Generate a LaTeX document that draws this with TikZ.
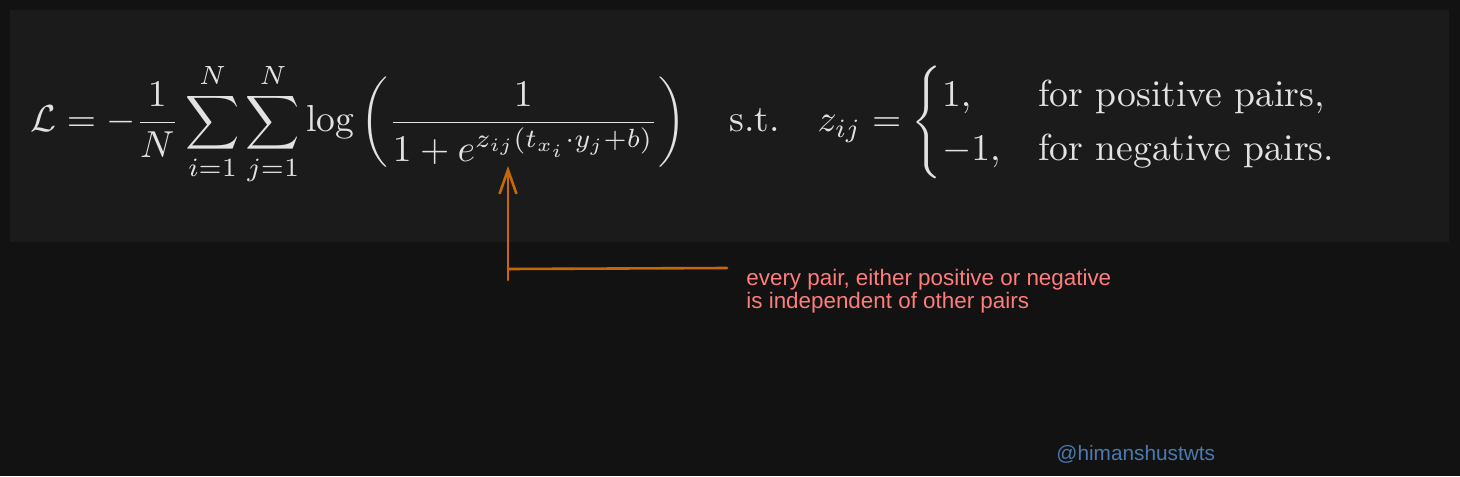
\documentclass[tikz,border=0pt]{standalone}
\usepackage{amsmath}
\usepackage{xcolor}
\usepackage{amssymb}
\usepackage{fontspec}
\newfontfamily\notefont{Liberation Sans}
\usepackage{tikz}
\usetikzlibrary{arrows.meta, positioning}

\definecolor{canvas}{RGB}{18,18,18}
\definecolor{panel}{RGB}{27,27,27}
\definecolor{ink}{RGB}{226,226,226}
\definecolor{arrowcol}{RGB}{196,104,8}
\definecolor{notecol}{RGB}{255,124,124}
\definecolor{handlecol}{RGB}{74,122,176}

\begin{document}
\begin{tikzpicture}[x=0.5pt, y=-0.5pt, >={Straight Barb[length=12pt, width=8.5pt]},
		arrowline/.style={draw=arrowcol, line width=1.3pt, line cap=round, line join=round},
		note/.style={text=notecol, font=\notefont\fontsize{11.2}{11.5}\selectfont, align=left, inner sep=0pt},
		handle/.style={text=handlecol, font=\notefont\fontsize{10.4}{12}\selectfont, inner sep=0pt}]
			% background and formula panel
			\fill[canvas] (0, 0) rectangle (1460, 476);
			\fill[panel] (10, 10) rectangle (1449, 242);
			\useasboundingbox (0, 0) rectangle (1460, 476);

			\node[text=ink, anchor=west, inner sep=0pt]	(loss)	at (30, 124)	{\resizebox{654pt}{!}{$\displaystyle
				\mathcal{L} = -\frac{1}{N}\sum_{i=1}^{N}\sum_{j=1}^{N}\log\left(\frac{1}{1+e^{z_{ij}(t_{x_i}\cdot y_j+b)}}\right)
				\quad \text{s.t.} \quad
				z_{ij} = \begin{cases} 1, & \text{for positive pairs,}\\ -1, & \text{for negative pairs.}\end{cases}$}};

			\coordinate	(tip)		at (508, 166);
			\coordinate	(corner)	at (508, 269);
			\coordinate	(foot)		at (508, 280);
			\coordinate	(tail)		at (727, 268);

			% the base of a two-line node is its last line
			\node[note, anchor=base west]	(remark)	at (746, 308)	{every pair, either positive or negative\\is independent of other pairs};
			\node[handle, anchor=base west]	(credit)	at (1056, 460)	{@himanshustwts};

			\draw[arrowline] (tail) -- (corner);
			\draw[arrowline, ->] (foot) -- (tip);
		\end{tikzpicture}
\end{document}
